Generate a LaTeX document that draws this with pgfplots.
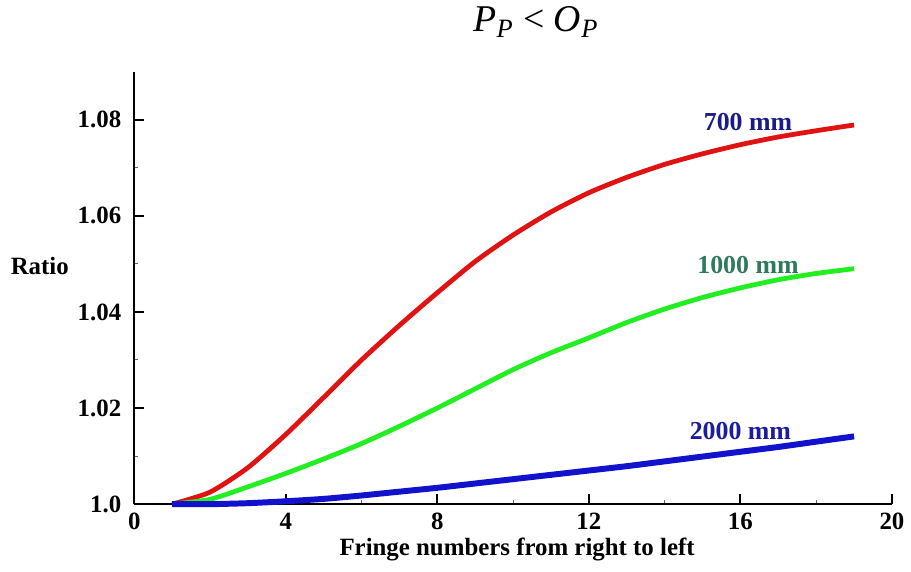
\documentclass[border=0pt]{standalone}
\usepackage{pgfplots}
\pgfplotsset{compat=1.18}
\usepackage{fontspec}
\setmainfont{Liberation Serif}
\definecolor{cred}{HTML}{E01212}
\definecolor{cgreen}{HTML}{22EE22}
\definecolor{cblue}{HTML}{1212CC}
\definecolor{lnavy}{HTML}{1A1A8A}
\definecolor{lgreen}{HTML}{2E7A5C}
\definecolor{lblue}{HTML}{1C1CA0}
\begin{document}
\begin{tikzpicture}
\path (0,0) rectangle (455.5pt,287.5pt);
\begin{axis}[
  at={(67.5pt,34pt)}, anchor=south west,
  scale only axis, width=381pt, height=217.5pt,
  xmin=0, xmax=20, ymin=1, ymax=1.09,
  axis lines=left,
  axis line style={-, line width=1.2pt},
  xtick={0,4,8,12,16,20},
  ytick={1,1.02,1.04,1.06,1.08},
  yticklabels={1.0,1.02,1.04,1.06,1.08},
  minor x tick num=1, minor y tick num=1,
  tick align=inside,
  major tick length=5pt, minor tick length=2pt,
  every major tick/.style={black, line width=1pt},
  every minor tick/.style={black!60, line width=0.5pt},
  ticklabel style={font=\fontsize{12.5}{15}\selectfont\bfseries},
  /pgf/number format/assume math mode=true,
  yticklabel style={xshift=-3pt},
  xticklabel style={yshift=-1pt},
  clip=false,
]
\addplot[cred, line width=2.4pt, smooth, tension=0.4] coordinates {
(1,1.0) (2,1.0025) (3,1.0076) (4,1.0145) (5,1.0222) (6,1.0300) (7,1.0372)
(8,1.0440) (9,1.0505) (10,1.0560) (11,1.0608) (12,1.0648) (13,1.0680)
(14,1.0707) (15,1.0729) (16,1.0748) (17,1.0764) (18,1.0777) (19,1.0789)};
\addplot[cgreen, line width=2.4pt, smooth, tension=0.4] coordinates {
(1,1.0) (2,1.0010) (3,1.0036) (4,1.0064) (5,1.0094) (6,1.0126) (7,1.0162)
(8,1.0200) (9,1.0240) (10,1.0280) (11,1.0315) (12,1.0346) (13,1.0378)
(14,1.0406) (15,1.0430) (16,1.0450) (17,1.0467) (18,1.0480) (19,1.0490)};
\addplot[cblue, line width=3pt, smooth, tension=0.4] coordinates {
(1,1.0) (2,1.0) (3,1.0002) (4,1.0006) (5,1.0011) (6,1.0018) (7,1.0026)
(8,1.0034) (9,1.0043) (10,1.0052) (11,1.0061) (12,1.0070) (13,1.0079)
(14,1.0089) (15,1.0099) (16,1.0109) (17,1.0119) (18,1.0130) (19,1.0141)};
\node[text=lnavy, font=\fontsize{13}{15}\selectfont\bfseries] at (axis cs:16.2,1.0796) {700 mm};
\node[text=lgreen, font=\fontsize{13}{15}\selectfont\bfseries] at (axis cs:16.2,1.0498) {1000 mm};
\node[text=lblue, font=\fontsize{13}{15}\selectfont\bfseries] at (axis cs:16.0,1.0152) {2000 mm};
\end{axis}
\node[font=\fontsize{12.5}{15}\selectfont\bfseries] at (20pt,153.5pt) {Ratio};
\node[font=\fontsize{12.5}{15}\selectfont\bfseries] at (260pt,11pt) {Fringe numbers from right to left};
\node[font=\fontsize{19}{22}\selectfont] at (269.5pt,276.5pt) {\textit{P}\textsubscript{\textit{P}} < \textit{O}\textsubscript{\textit{P}}};
\end{tikzpicture}
\end{document}
